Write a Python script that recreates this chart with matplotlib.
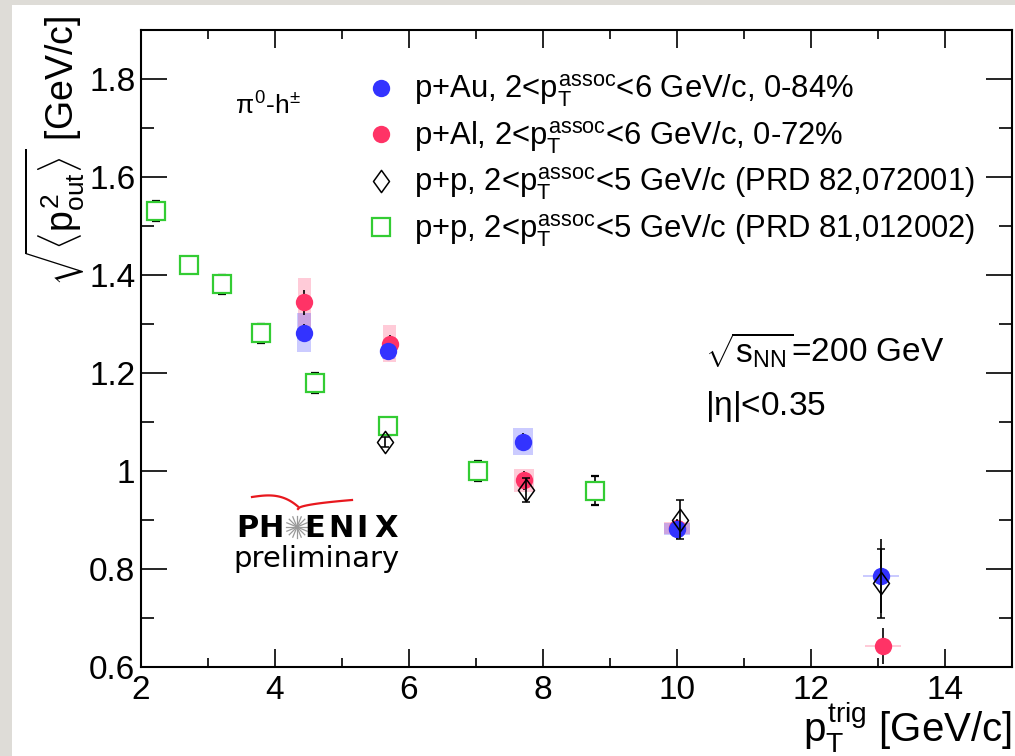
import matplotlib
matplotlib.use("Agg")
import matplotlib.pyplot as plt
from matplotlib.path import Path
from matplotlib.lines import Line2D
import numpy as np

# ---- data -------------------------------------------------------------
pau_x = [4.43, 5.69, 7.70, 10.0, 13.05]
pau_y = [1.282, 1.244, 1.060, 0.882, 0.786]
pau_err = [0.018, 0.010, 0.018, 0.020, 0.075]
pau_sys = [0.040, 0.015, 0.028, 0.012, 0.002]
pau_xw = [0.10, 0.10, 0.15, 0.20, 0.27]

pal_x = [4.44, 5.71, 7.71, 10.0, 13.07]
pal_y = [1.344, 1.260, 0.981, 0.884, 0.643]
pal_err = [0.025, 0.018, 0.020, 0.015, 0.037]
pal_sys = [0.050, 0.038, 0.023, 0.012, 0.002]
pal_xw = [0.10, 0.10, 0.15, 0.20, 0.27]

pp82_x = [5.64, 7.74, 10.05, 13.05]
pp82_y = [1.060, 0.961, 0.901, 0.771]
pp82_err = [0.010, 0.025, 0.040, 0.070]

pp81_x = [2.22, 2.72, 3.21, 3.79, 4.60, 5.69, 7.03, 8.78]
pp81_y = [1.531, 1.421, 1.381, 1.281, 1.180, 1.091, 1.000, 0.960]
pp81_err = [0.020, 0.010, 0.020, 0.020, 0.020, 0.018, 0.020, 0.030]

legend_labels = [
    r"p+Au, 2<$p_{T}^{assoc}$<6 GeV/c, 0-84%",
    r"p+Al, 2<$p_{T}^{assoc}$<6 GeV/c, 0-72%",
    r"p+p, 2<$p_{T}^{assoc}$<5 GeV/c (PRD 82,072001)",
    r"p+p, 2<$p_{T}^{assoc}$<5 GeV/c (PRD 81,012002)",
]
xticks = [2, 4, 6, 8, 10, 12, 14]
yticks = [0.6, 0.8, 1.0, 1.2, 1.4, 1.6, 1.8]
ytick_labels = ["0.6", "0.8", "1", "1.2", "1.4", "1.6", "1.8"]

# ---- style ------------------------------------------------------------
plt.rcParams["font.family"] = ["Liberation Sans", "DejaVu Sans"]
plt.rcParams["mathtext.fontset"] = "custom"
plt.rcParams["mathtext.rm"] = "Liberation Sans"
plt.rcParams["mathtext.it"] = "Liberation Sans"
plt.rcParams["mathtext.bf"] = "Liberation Sans:bold"

BLUE = "#3333ff"
RED = "#ff3366"
GREEN = "#33cc33"

W, H = 1015, 756
fig = plt.figure(figsize=(W / 100, H / 100), dpi=100, facecolor="#dedcd7")


def fx(px):
    return np.asarray(px) / W


def fy(py):
    return 1 - np.asarray(py) / H


# white slide area
fig.patches.append(plt.Rectangle((fx(12), 0), 1 - fx(12), fy(5), transform=fig.transFigure,
                                 facecolor="white", edgecolor="none", zorder=-10))

ax = fig.add_axes([fx(141), fy(667), fx(1012) - fx(141), fy(30) - fy(667)])
ax.set_zorder(5)
ax.patch.set_alpha(0)
ax.set_xlim(2, 15)
ax.set_ylim(0.6, 1.9)

# systematic boxes
ax.bar(pal_x, [2 * s for s in pal_sys], width=[2 * w for w in pal_xw],
       bottom=[y - s for y, s in zip(pal_y, pal_sys)], color=RED, alpha=0.25,
       linewidth=0, zorder=2)
ax.bar(pau_x, [2 * s for s in pau_sys], width=[2 * w for w in pau_xw],
       bottom=[y - s for y, s in zip(pau_y, pau_sys)], color=BLUE, alpha=0.25,
       linewidth=0, zorder=2)

ekw = dict(ecolor="black", elinewidth=1.2, capsize=3, capthick=1.2, linestyle="none")

ax.errorbar(pp81_x, pp81_y, yerr=pp81_err, marker="s", ms=13, mfc="white", mec=GREEN,
            mew=1.6, zorder=3, **ekw)
ax.errorbar(pal_x, pal_y, yerr=pal_err, marker="o", ms=12.5, mfc=RED, mec=RED,
            mew=0, zorder=4, **ekw)
ax.errorbar(pau_x, pau_y, yerr=pau_err, marker="o", ms=12.5, mfc=BLUE, mec=BLUE,
            mew=0, zorder=5, **ekw)

diamond = Path([(0, 1), (0.72, 0), (0, -1), (-0.72, 0), (0, 1)],
               [Path.MOVETO, Path.LINETO, Path.LINETO, Path.LINETO, Path.CLOSEPOLY])
ax.errorbar(pp82_x, pp82_y, yerr=pp82_err, marker=diamond, ms=16, mfc="none", mec="black",
            mew=1.1, zorder=6, **ekw)

# axes frame and ticks
for sp in ax.spines.values():
    sp.set_linewidth(1.5)
ax.set_xticks(xticks)
ax.set_xticks(np.arange(2, 15.01, 1), minor=True)
ax.set_yticks(yticks)
ax.set_yticklabels(ytick_labels)
ax.set_yticks(np.arange(0.6, 1.901, 0.1), minor=True)
ax.tick_params(which="both", direction="in", top=True, right=True, width=1.2)
ax.tick_params(axis="x", which="major", length=13, labelsize=24, pad=6)
ax.tick_params(axis="x", which="minor", length=6.5)
ax.tick_params(axis="y", which="major", length=19, labelsize=24, pad=4)
ax.tick_params(axis="y", which="minor", length=9.5)

# legend
handles = [
    Line2D([], [], linestyle="none", marker="o", ms=12.5, mfc=BLUE, mec=BLUE, mew=0),
    Line2D([], [], linestyle="none", marker="o", ms=12.5, mfc=RED, mec=RED, mew=0),
    Line2D([], [], linestyle="none", marker=diamond, ms=16, mfc="none", mec="black", mew=1.1),
    Line2D([], [], linestyle="none", marker="s", ms=13, mfc="none", mec=GREEN, mew=1.6),
]
ax.legend(handles, legend_labels, loc="upper left", bbox_to_anchor=(fx(366), fy(73)),
          bbox_transform=fig.transFigure, frameon=False, fontsize=22.3,
          handlelength=1.0, handletextpad=0.55, labelspacing=0.32, borderpad=0,
          borderaxespad=0)

# annotations
fig.text(fx(235), fy(115), r"$\pi^{0}$-h$^{\pm}$", fontsize=19, va="baseline")
fig.text(fx(705), fy(362), r"$\sqrt{s_{NN}}$=200 GeV", fontsize=24, va="baseline")
fig.text(fx(705), fy(415), r"|$\eta$|<0.35", fontsize=24, va="baseline")

# axis titles
fig.text(fx(1012), fy(742), r"$p_{T}^{trig}$ [GeV/c]", fontsize=29, ha="right",
         va="baseline")
fig.text(fx(55), fy(16), r"$\sqrt{\langle p^{2}_{out}\rangle}$ [GeV/c]", fontsize=27,
         rotation=90, ha="center", va="top")

# PHENIX preliminary logo
logo_kw = dict(fontsize=22, fontweight="bold", family="DejaVu Sans", va="baseline",
               ha="center")
for ch, px in zip(["P", "H", "E", "N", "I", "X"], [247, 271, 315, 341, 362, 386]):
    fig.text(fx(px), fy(537), ch, **logo_kw)
fig.text(fx(233), fy(567), "preliminary", fontsize=21, family="DejaVu Sans",
         va="baseline")
cx, cy, r = 297, 527, 11
for ang in np.arange(0, np.pi, np.pi / 8):
    fig.add_artist(Line2D([fx(cx - r * np.cos(ang)), fx(cx + r * np.cos(ang))],
                          [fy(cy - r * np.sin(ang)), fy(cy + r * np.sin(ang))],
                          color="#999999", lw=0.9, transform=fig.transFigure))
arc_l = np.linspace(0, 1, 40)
lx = 252 + 46 * arc_l
ly = 497 - 3 * np.sin(np.pi * arc_l * 0.7) + 12 * arc_l ** 3
rx = 298 + 54 * arc_l
ry = 509 - 9 * np.sqrt(arc_l)
fig.add_artist(Line2D(fx(lx), fy(ly), color="#e8181e", lw=1.6, transform=fig.transFigure))
fig.add_artist(Line2D(fx(rx), fy(ry), color="#e8181e", lw=1.6, transform=fig.transFigure))

fig.savefig("out.png", dpi=100, facecolor=fig.get_facecolor())
